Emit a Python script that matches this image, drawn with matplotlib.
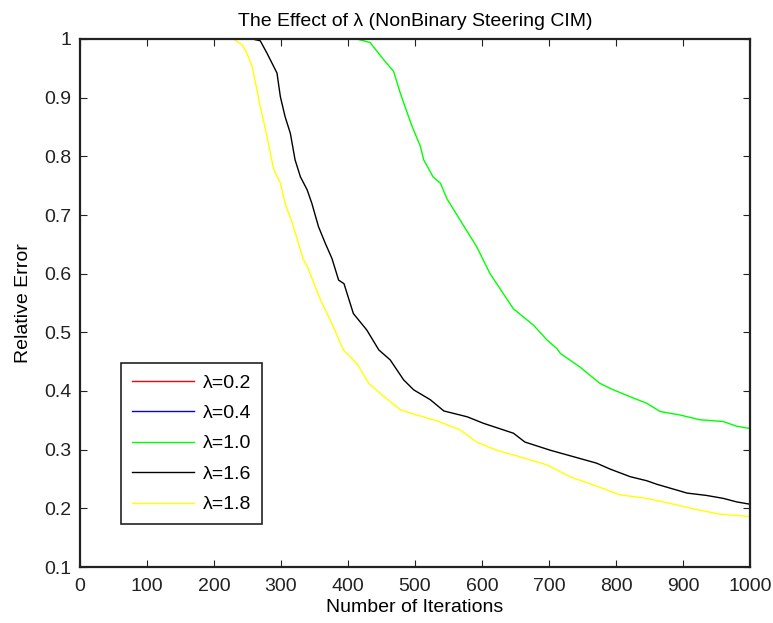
import numpy as np
import matplotlib
matplotlib.use("Agg")
import matplotlib.pyplot as plt

plt.rcParams['font.family'] = ['Liberation Sans', 'DejaVu Sans']

# lambda = 0.2 and 0.4 never leave 1.0 (hidden under the top border)
x_flat = [0, 1000]
y_02 = [1.0, 1.0]
y_04 = [1.0, 1.0]

x_10 = [0, 413, 433, 453, 468, 478, 485, 495, 508, 513, 527, 538, 548, 567, 592,
        612, 630, 647, 677, 697, 712, 717, 746, 776, 796, 826, 846, 866, 896, 925,
        960, 980, 1000]
y_10 = [1.0, 1.0, 0.994, 0.965, 0.945, 0.908, 0.885, 0.853, 0.817, 0.794, 0.765,
        0.754, 0.727, 0.692, 0.646, 0.600, 0.569, 0.540, 0.512, 0.487, 0.472, 0.464,
        0.441, 0.413, 0.402, 0.388, 0.379, 0.365, 0.359, 0.351, 0.348, 0.340, 0.336]

x_16 = [0, 257, 269, 279, 294, 299, 306, 314, 321, 329, 339, 346, 356, 366, 376,
        386, 394, 408, 428, 446, 463, 483, 498, 523, 543, 578, 602, 647, 664, 702,
        746, 771, 791, 821, 846, 861, 906, 935, 960, 980, 1000]
y_16 = [1.0, 1.0, 0.997, 0.976, 0.942, 0.902, 0.868, 0.839, 0.794, 0.765, 0.743,
        0.720, 0.680, 0.652, 0.626, 0.589, 0.583, 0.532, 0.504, 0.470, 0.453, 0.419,
        0.402, 0.385, 0.366, 0.356, 0.345, 0.328, 0.313, 0.299, 0.285, 0.277, 0.267,
        0.254, 0.247, 0.241, 0.226, 0.222, 0.217, 0.211, 0.207]

x_18 = [0, 229, 242, 249, 257, 262, 269, 277, 284, 289, 299, 306, 316, 326, 333,
        340, 359, 378, 393, 413, 431, 448, 478, 503, 533, 567, 592, 622, 647, 697,
        731, 766, 806, 846, 886, 920, 955, 1000]
y_18 = [1.0, 1.0, 0.990, 0.976, 0.953, 0.925, 0.885, 0.845, 0.806, 0.778, 0.755,
        0.720, 0.689, 0.652, 0.625, 0.610, 0.555, 0.510, 0.470, 0.447, 0.413, 0.396,
        0.368, 0.359, 0.349, 0.334, 0.313, 0.299, 0.291, 0.274, 0.254, 0.240, 0.223,
        0.217, 0.207, 0.198, 0.190, 0.186]

labels = ['λ=0.2', 'λ=0.4', 'λ=1.0', 'λ=1.6', 'λ=1.8']
colors = ['#ff0000', '#0000ff', '#00ff00', '#000000', '#ffff00']

fig = plt.figure(figsize=(7.73, 6.23), dpi=100)
# axes box: 80..750 px wide, 39..567 px from top
ax = fig.add_axes([80 / 773, 56 / 623, 670 / 773, 528 / 623])

series = [(x_flat, y_02), (x_flat, y_04), (x_10, y_10), (x_16, y_16), (x_18, y_18)]
for (xs, ys), lab, c in zip(series, labels, colors):
    ln, = ax.plot(xs, ys, color=c, lw=1.0, label=lab, zorder=1)
    if ys is y_02 or ys is y_04:
        ln.set_snap(False)

ax.set_xlim(0, 1000)
ax.set_ylim(0.1, 1.0)
ax.set_xticks(np.arange(0, 1001, 100))
ax.set_yticks(np.round(np.arange(0.1, 1.01, 0.1), 1))
ax.set_yticklabels(['0.1', '0.2', '0.3', '0.4', '0.5', '0.6', '0.7', '0.8', '0.9', '1'])
ax.tick_params(direction='in', top=True, right=True, length=5, labelsize=14,
               width=0.8, pad=6, colors='#222222')
ax.tick_params(axis='x', pad=8)
for s in ax.spines.values():
    s.set_linewidth(1.6)
    s.set_color('#222222')
    s.set_zorder(5)

ax.set_title('The Effect of λ (NonBinary Steering CIM)', fontsize=14, pad=9)
ax.set_xlabel('Number of Iterations', fontsize=14, labelpad=3)
ax.set_ylabel('Relative Error', fontsize=14, labelpad=9)

leg = ax.legend(loc='lower left', bbox_to_anchor=(41 / 670, 43 / 528), borderaxespad=0,
                fancybox=False, fontsize=14, handlelength=3.2, labelspacing=0.66,
                borderpad=0.55, handletextpad=0.45, framealpha=1)
leg.get_frame().set_edgecolor('#222222')
leg.get_frame().set_linewidth(1.2)

plt.savefig('out.png', dpi=100)
